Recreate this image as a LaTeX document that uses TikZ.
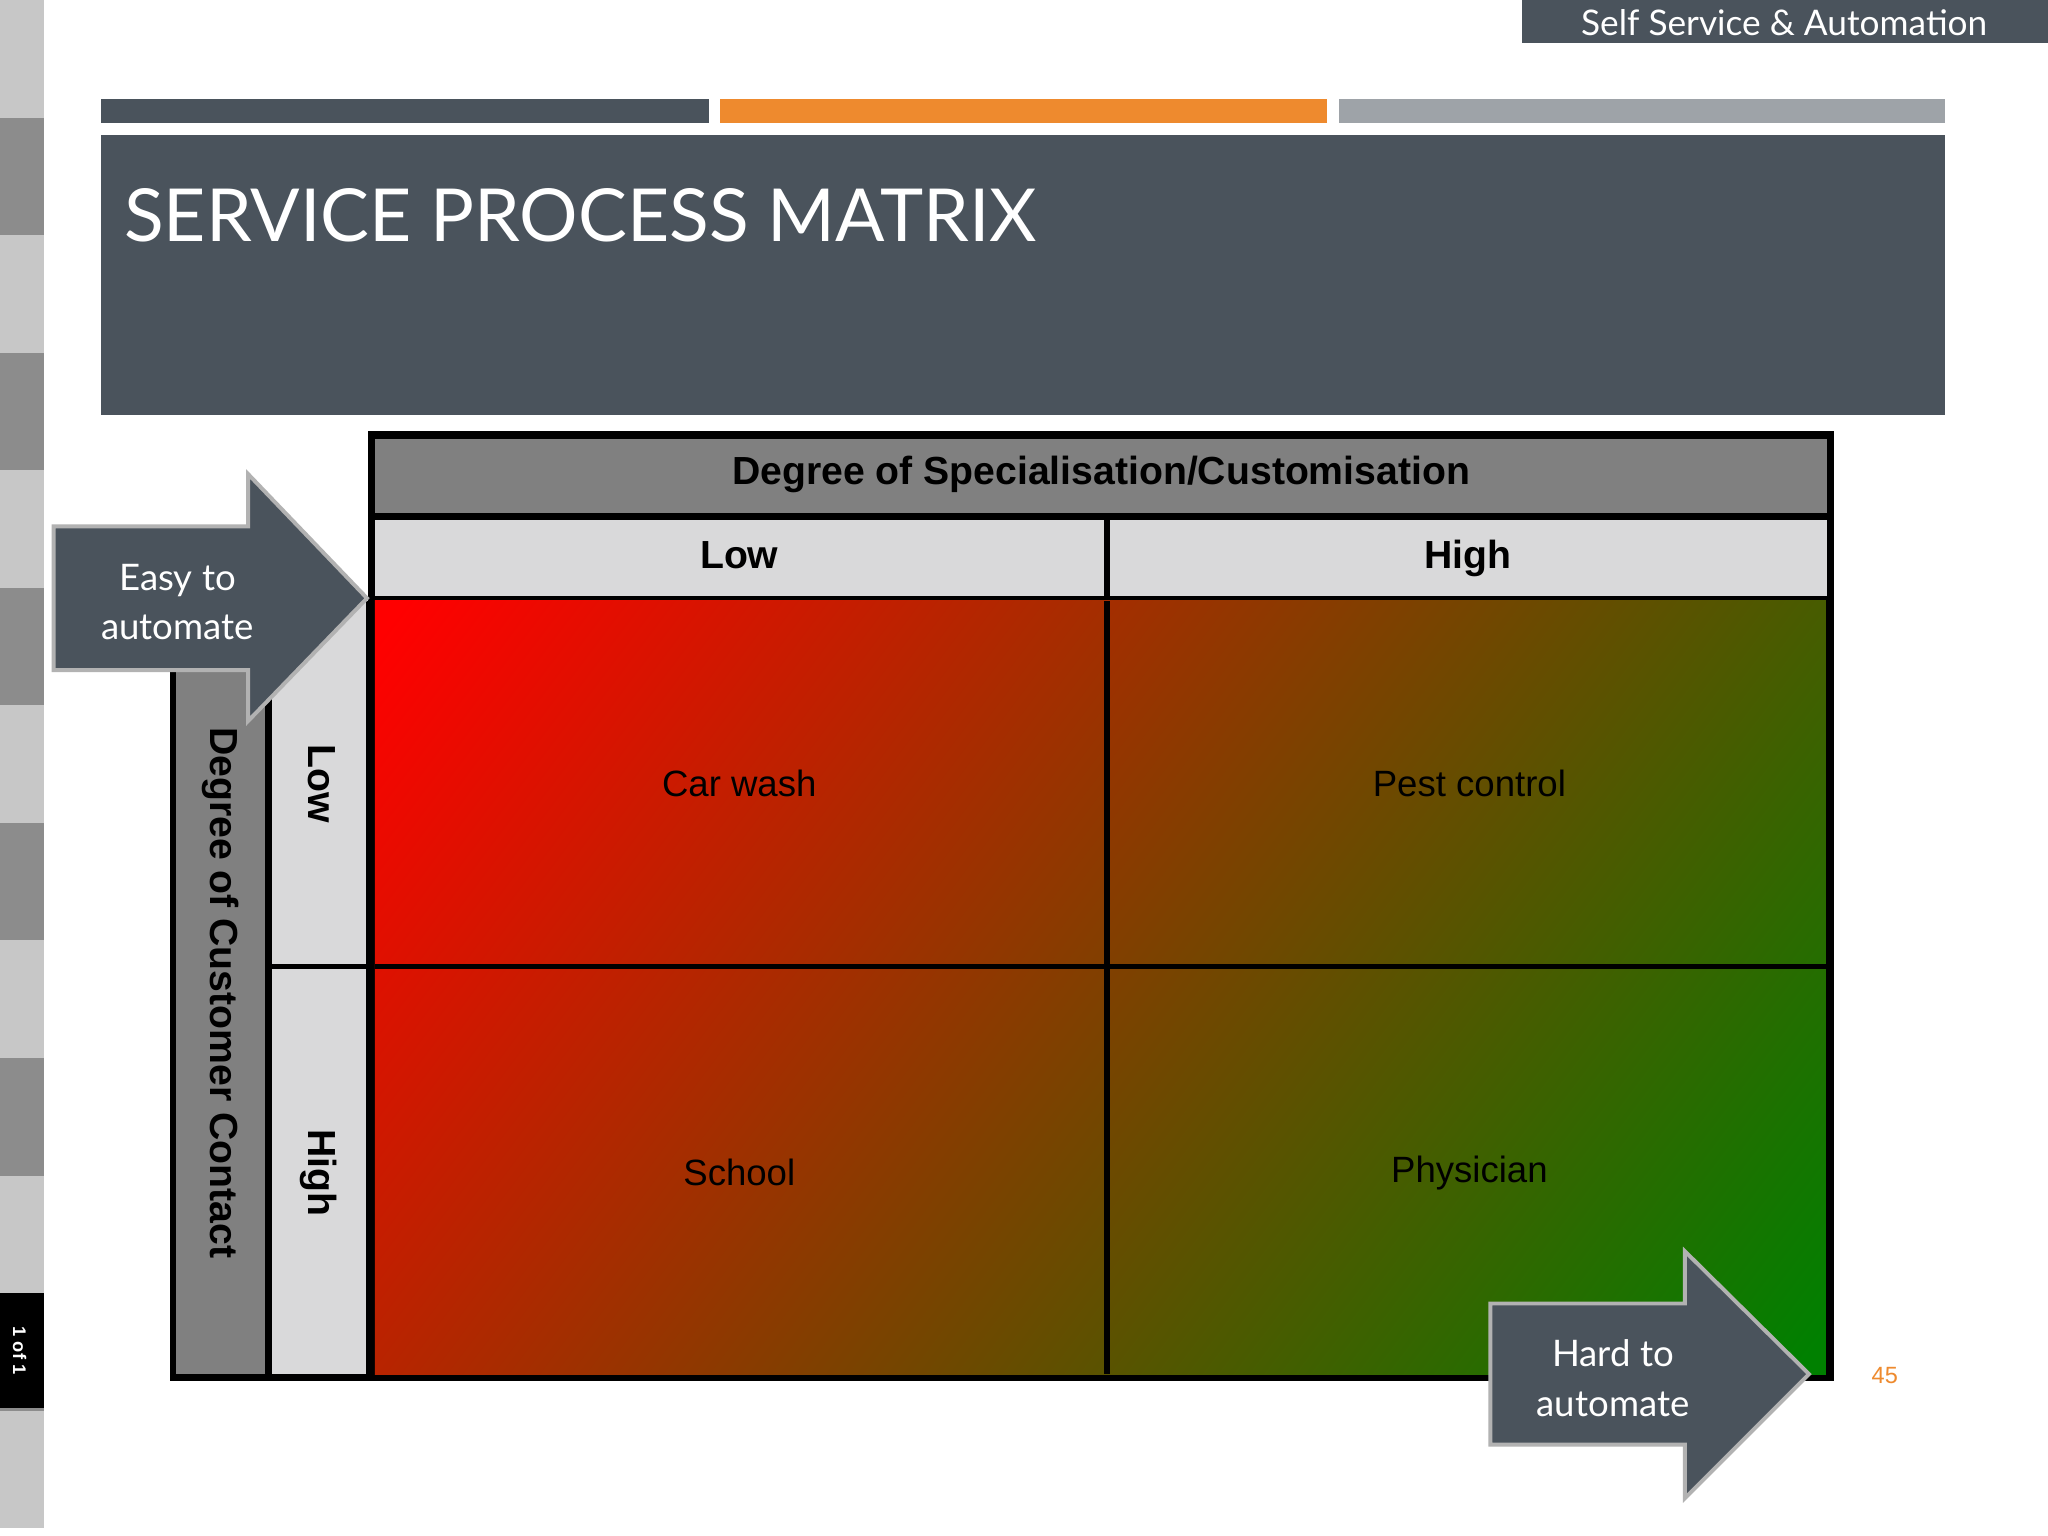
\documentclass[tikz,border=0pt]{standalone}
\usepackage{fontspec}
\setmainfont{Liberation Sans}
\newfontfamily\gill{Lato}
\definecolor{slate}{HTML}{4A535C}
\definecolor{orng}{HTML}{EE8A2E}
\definecolor{lgr}{HTML}{9EA3A8}
\definecolor{cellg}{HTML}{D9D9DA}
\definecolor{hdr}{HTML}{808080}
\definecolor{gd}{HTML}{008000}
\pgfdeclarehorizontalshading{diag}{100bp}{color(0bp)=(red); color(16bp)=(red); color(84bp)=(gd); color(100bp)=(gd)}
\begin{document}
\begin{tikzpicture}[x=0.5pt,y=-0.5pt,
  arr/.style={fill=slate,draw=gray!60,line width=1.5pt},
  lab/.style={font=\fontsize{14}{16}\selectfont},
  bl/.style={font=\bfseries\fontsize{15}{17}\selectfont,text height=11pt,text depth=3pt}]
\useasboundingbox (0,0) rectangle (1568,1176);
\fill[white] (0,0) rectangle (1568,1176);
% left strip
\foreach \i in {0,...,12}{
  \pgfmathsetmacro\c{mod(\i,2)==0?22:45}
  \fill[black!\c!white] (0,\i*90) rectangle (34,\i*90+90);}
\fill[black] (0,990) rectangle (34,1078);
\node[rotate=-90,text=white,font=\bfseries\fontsize{7}{8}\selectfont] (pg) at (15,1034) {1 of 1};
% top
\fill[slate] (1165,0) rectangle (1568,33);
\node[text=white,font=\gill\fontsize{13.5}{16}\selectfont] (ss) at (1366,17) {Self Service \& Automation};
\fill[slate] (77,76) rectangle (543,94);
\fill[orng] (551,76) rectangle (1016,94);
\fill[lgr] (1025,76) rectangle (1489,94);
\fill[slate] (77,103) rectangle (1489,318);
\node[anchor=west,text=white,font=\gill\fontsize{28}{32}\selectfont] (title) at (88,165) {SERVICE PROCESS MATRIX};
% matrix
\fill[black] (282,330) rectangle (1404,1057);
\fill[black] (130,460) rectangle (285,1057);
\fill[hdr] (287,336) rectangle (1399,393);
\node[bl] (h) at (843,363) {Degree of Specialisation/Customisation};
\fill[cellg] (287,398) rectangle (845,456);
\fill[cellg] (850,398) rectangle (1399,456);
\node[bl] (lo) at (566,427) {Low};
\node[bl] (hi) at (1124,427) {High};
\shade[shading=diag,shading angle=-37] (287,460) rectangle (1398,1052);
\fill[black] (845,460) rectangle (850,1052);
\fill[black] (287,738) rectangle (1398,742);
\node[lab] (c1) at (566,600) {Car wash};
\node[lab] (c2) at (1125,600) {Pest control};
\node[lab] (c3) at (566,898) {School};
\node[lab] (c4) at (1125,898) {Physician};
\fill[hdr] (135,505) rectangle (203,1052);
\node[bl,rotate=-90] (dc) at (169,760) {Degree of Customer Contact};
\fill[cellg] (208,460) rectangle (280,738);
\fill[cellg] (208,742) rectangle (280,1052);
\node[bl,rotate=-90] (rl) at (244,600) {Low};
\node[bl,rotate=-90] (rh) at (244,898) {High};
% arrows
\draw[arr] (41,403) -- (190,403) -- (190,363) -- (281,458) -- (190,552) -- (190,513) -- (41,513) -- cycle;
\node[text=white,align=center,font=\gill\fontsize{14}{19}\selectfont] (ea) at (136,461) {Easy to\\automate};
\draw[arr] (1141,998) -- (1290,998) -- (1290,958) -- (1385,1052) -- (1290,1147) -- (1290,1106) -- (1141,1106) -- cycle;
\node[text=white,align=center,font=\gill\fontsize{14}{19}\selectfont] (ha) at (1235,1055) {Hard to\\automate};
\node[text=orng,font=\fontsize{9}{10}\selectfont] (n) at (1443,1053) {45};
\end{tikzpicture}
\end{document}
